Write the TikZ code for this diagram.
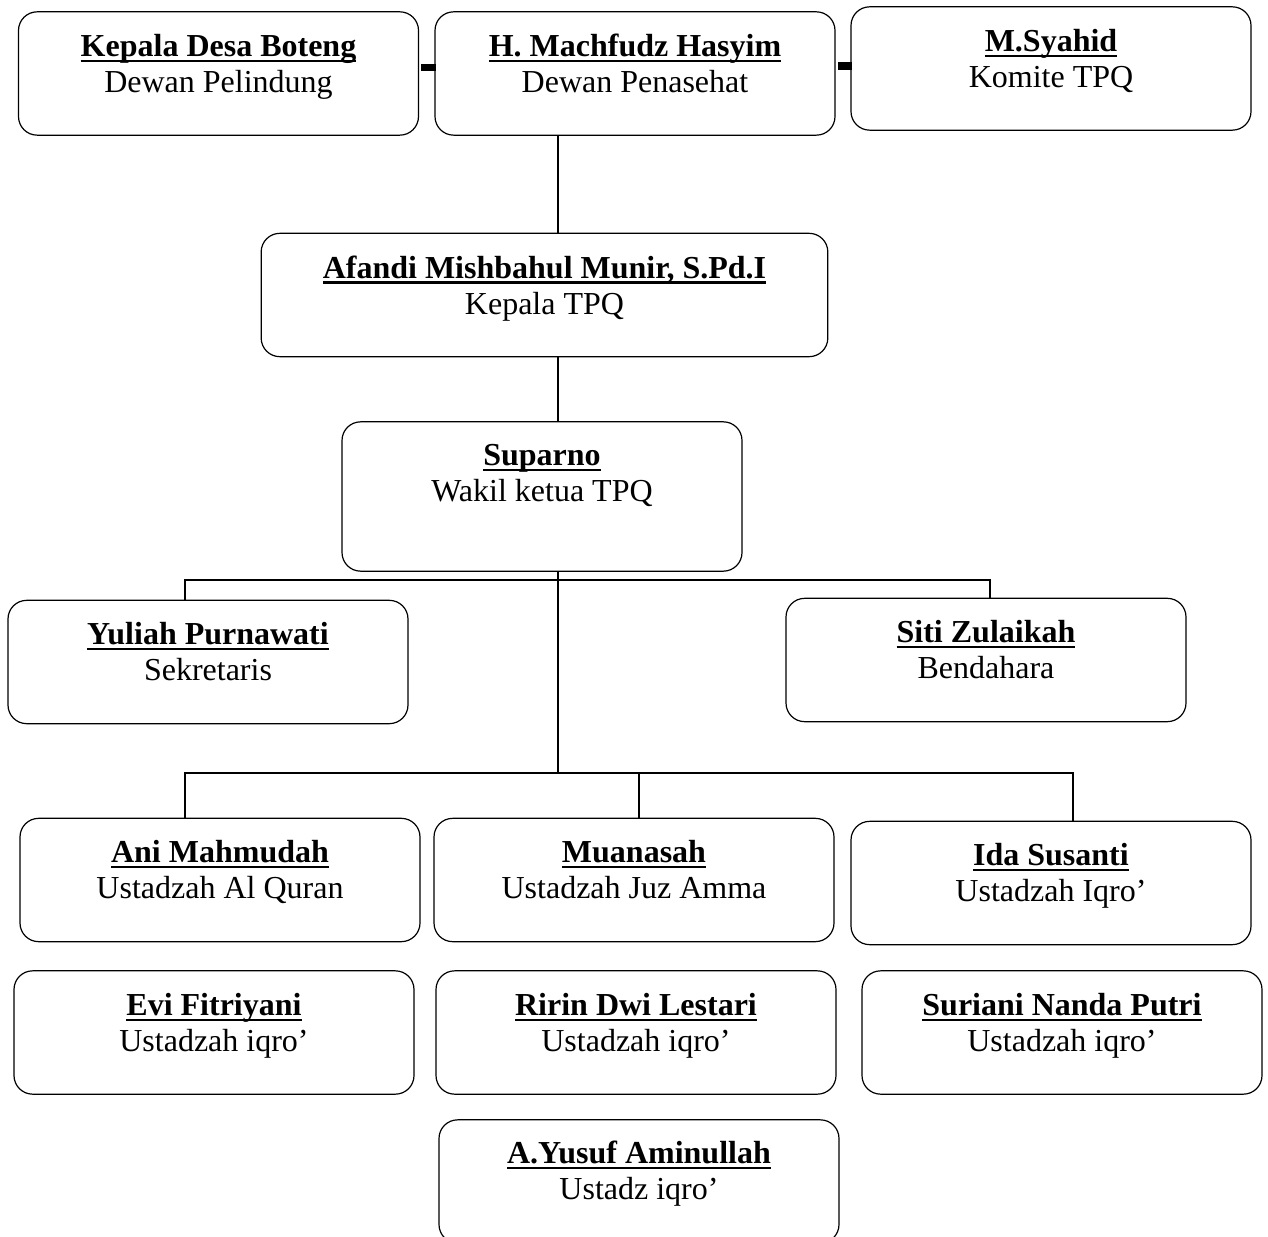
\documentclass[tikz,border=0pt]{standalone}
\usepackage{fontspec}
\setmainfont{Liberation Serif}
\usepackage{tikz}

\newsavebox\namebox
\newcommand{\nameline}[1]{\sbox\namebox{\bfseries #1}\rlap{\usebox\namebox}\rule[-4pt]{\wd\namebox}{1.6pt}}

\begin{document}
\begin{tikzpicture}[x=0.75pt, y=-0.75pt,
    unit/.style = {draw, rounded corners=14pt, line width=0.9pt, minimum width=300pt, minimum height=92.5pt},
    txt/.style = {anchor=north, inner sep=0pt, align=center, font=\fontsize{24}{27}\selectfont},
    link/.style = {line width=1.2pt},
    dashlink/.style = {line width=5.5pt}]
    \useasboundingbox (0,0) rectangle (1268,1237);
    % boxes
    \node[unit] (kades)    at (218.5,73.5) {};
    \node[unit] (dewan)    at (635,73.5)   {};
    \node[unit] (syahid)   at (1051,68.5)  {};
    \node[unit, minimum width=425pt] (afandi) at (544.5,295) {};
    \node[unit, minimum height=112pt] (suparno) at (542,496.5) {};
    \node[unit] (yuliah)   at (208,662)    {};
    \node[unit] (siti)     at (986,660)    {};
    \node[unit] (ani)      at (220,880)    {};
    \node[unit] (muanasah) at (634,880)    {};
    \node[unit] (ida)      at (1051,883)   {};
    \node[unit] (evi)      at (214,1032.5) {};
    \node[unit] (ririn)    at (636,1032.5) {};
    \node[unit] (suriani)  at (1062,1032.5) {};
    \node[unit] (yusuf)    at (639,1181.5) {};
    % texts
    \node[txt] (kades-t)    at ([yshift=-17pt]kades.north)    {\nameline{Kepala Desa Boteng}\\Dewan Pelindung};
    \node[txt] (dewan-t)    at ([yshift=-17pt]dewan.north)    {\nameline{H. Machfudz Hasyim}\\Dewan Penasehat};
    \node[txt] (syahid-t)   at ([yshift=-17pt]syahid.north)   {\nameline{M.Syahid}\\Komite TPQ};
    \node[txt] (afandi-t)   at ([yshift=-17pt]afandi.north)   {\nameline{Afandi Mishbahul Munir, S.Pd.I}\\Kepala TPQ};
    \node[txt] (suparno-t)  at ([yshift=-17pt]suparno.north)  {\nameline{Suparno}\\Wakil ketua TPQ};
    \node[txt] (yuliah-t)   at ([yshift=-17pt]yuliah.north)   {\nameline{Yuliah Purnawati}\\Sekretaris};
    \node[txt] (siti-t)     at ([yshift=-17pt]siti.north)     {\nameline{Siti Zulaikah}\\Bendahara};
    \node[txt] (ani-t)      at ([yshift=-17pt]ani.north)      {\nameline{Ani Mahmudah}\\Ustadzah Al Quran};
    \node[txt] (muanasah-t) at ([yshift=-17pt]muanasah.north) {\nameline{Muanasah}\\Ustadzah Juz Amma};
    \node[txt] (ida-t)      at ([yshift=-17pt]ida.north)      {\nameline{Ida Susanti}\\Ustadzah Iqro’};
    \node[txt] (evi-t)      at ([yshift=-17pt]evi.north)      {\nameline{Evi Fitriyani}\\Ustadzah iqro’};
    \node[txt] (ririn-t)    at ([yshift=-17pt]ririn.north)    {\nameline{Ririn Dwi Lestari}\\Ustadzah iqro’};
    \node[txt] (suriani-t)  at ([yshift=-17pt]suriani.north)  {\nameline{Suriani Nanda Putri}\\Ustadzah iqro’};
    \node[txt] (yusuf-t)    at ([yshift=-16pt]yusuf.north)    {\nameline{A.Yusuf Aminullah}\\Ustadz iqro’};
    % connectors
    \coordinate (bus1) at (558,580);
    \coordinate (bus2) at (558,773);
    \draw[dashlink] ([yshift=4.5pt,xshift=1.5pt]kades.east) -- ([yshift=4.5pt,xshift=1.5pt]kades.east -| dewan.west);
    \draw[dashlink] ([yshift=5.5pt,xshift=1.5pt]dewan.east) -- ([yshift=5.5pt,xshift=1.5pt]dewan.east -| syahid.west);
    \draw[link] (dewan.south -| bus1) -- (afandi.north -| bus1);
    \draw[link] (afandi.south -| bus1) -- (suparno.north -| bus1);
    \draw[link] (suparno.south -| bus1) -- (bus2);
    \draw[link] (yuliah.north -| 185,0) |- (bus1) -| (siti.north -| 990,0);
    \draw[link] (ani.north -| 185,0) |- (bus2) -| (ida.north -| 1073,0);
    \draw[link] (muanasah.north -| 639,0) -- (bus2 -| 639,0);
\end{tikzpicture}
\end{document}
